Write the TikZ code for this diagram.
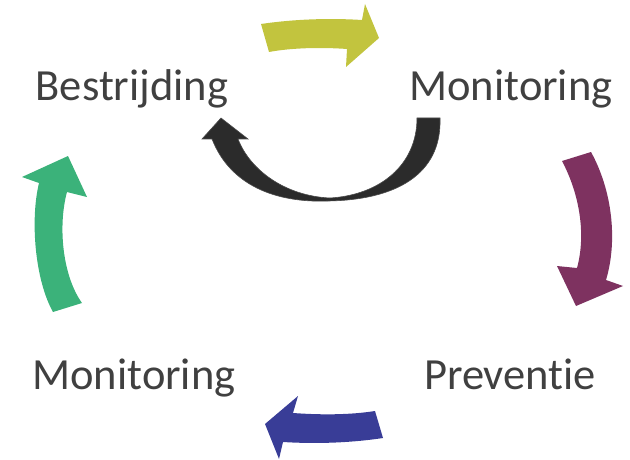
\documentclass[tikz,border=0pt]{standalone}
\usepackage{fontspec}
\setmainfont{Carlito}[Ligatures={NoCommon,NoContextual}]
\usetikzlibrary{calc}
\definecolor{txtgray}{HTML}{404040}
\definecolor{olivegreen}{HTML}{C2C43E}
\definecolor{plum}{HTML}{7E3260}
\definecolor{navy}{HTML}{393D97}
\definecolor{jade}{HTML}{3BB27A}
\definecolor{blackarrow}{HTML}{2B2B2B}
\begin{document}
\begin{tikzpicture}[x=1pt,y=-1pt,
	every node/.style={text=txtgray,anchor=base,inner sep=0pt,font=\fontsize{44.5}{53}\selectfont},
	blockarrow/.style={draw=none}]
\useasboundingbox (0,0) rectangle (630,460);

\node (bestrijding) at (132,101){Bestrijding};
\node (monitoringtop) at (511,101){Monitoring};
\node (preventie) at (510,389){Prevent\kern0pt ie};
\node (monitoringbot) at (134,389){Monitoring};

%outer cycle
\fill[blockarrow,olivegreen] (261,24) .. controls (295,19) and (330,18) .. (362,20) -- (365,4) -- (379,38) -- (346,67) -- (347,49) .. controls (320,47) and (290,48) .. (269,52) -- cycle;
\fill[blockarrow,plum] (562,161) .. controls (580,195) and (586,235) .. (577,268) -- (557,266) -- (576,306) -- (623,286) -- (606,280) .. controls (618,240) and (612,190) .. (591,152) -- cycle;
\fill[blockarrow,navy] (375,411) .. controls (350,415) and (320,415) .. (293,413) -- (298,396) -- (265,424) -- (279,459) -- (283,442) .. controls (315,444) and (350,443) .. (383,438) -- cycle;
\fill[blockarrow,jade] (53,312) .. controls (35,280) and (30,220) .. (39,183) -- (22,177) -- (68,156) -- (87,197) -- (67,192) .. controls (58,225) and (62,275) .. (82,303) -- cycle;
%inner loop
\filldraw[blackarrow,draw=black!70,line width=0.6pt] (417,118) .. controls (417,165) and (380,195) .. (330,198) .. controls (285,196) and (250,170) .. (238,139) -- (248,139) -- (221,118) -- (202,139) -- (212,139) .. controls (230,185) and (275,203) .. (328,201) .. controls (395,200) and (442,175) .. (440,118) -- cycle;
\end{tikzpicture}
\end{document}
